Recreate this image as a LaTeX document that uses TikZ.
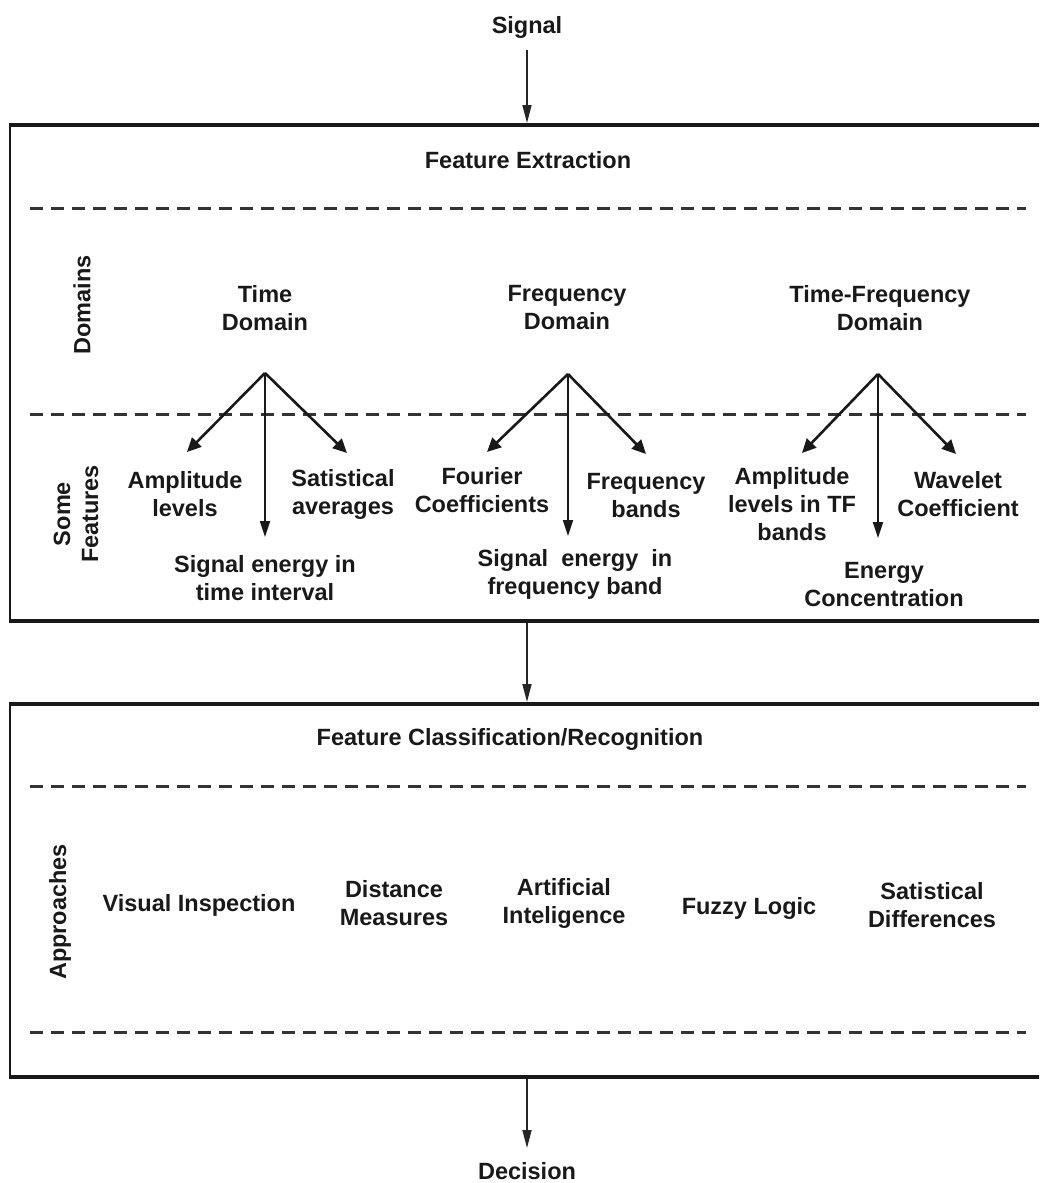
\documentclass[tikz,border=0pt]{standalone}
\usepackage{fontspec}
\setmainfont{Liberation Sans}
\usetikzlibrary{arrows.meta}
\begin{document}
\begin{tikzpicture}[x=1pt,y=-1pt,
  lbl/.style={font=\fontsize{23.5}{28}\selectfont\bfseries, align=center, inner sep=0pt, text=black!90},
  frame/.style={line width=4.5pt, black!90},
  side/.style={line width=2.5pt, black!90},
  sep/.style={line width=3pt, black!80, dash pattern=on 13pt off 8pt},
  flow/.style={line width=1.6pt, black!85, -{Triangle[length=18pt,width=9pt]}},
  branch/.style={line width=2.6pt, black!90, -{Triangle[length=14pt,width=13pt]}},
  trunk/.style={line width=2pt, black!90, -{Triangle[length=16pt,width=10pt]}}]
\useasboundingbox (0,0) rectangle (1039,1183);
\clip (0,0) rectangle (1039,1183);

% ---- boxes ----
\draw[frame] (8.75,125) -- (1050,125);
\draw[frame] (8.75,621) -- (1050,621);
\draw[side] (10,125) -- (10,621);
\draw[frame] (8.75,704) -- (1050,704);
\draw[frame] (8.75,1077) -- (1050,1077);
\draw[side] (10,704) -- (10,1077);

% ---- dashed separators ----
\draw[sep] (30,208) -- (1026,208);
\draw[sep] (30,414) -- (1026,414);
\draw[sep] (30,786) -- (1026,786);
\draw[sep] (30,1032) -- (1026,1032);

% ---- flow labels ----
\node[lbl] (signal) at (527,27) {Signal};
\node[lbl] (decision) at (527,1171) {Decision};
\node[lbl] (fe) at (528,160) {Feature Extraction};
\node[lbl] (fc) at (510,739) {Feature Classification/Recognition};

\coordinate (sigfoot) at (527,50);
\coordinate (b1in) at (527,123);
\coordinate (b1out) at (527,623);
\coordinate (b2in) at (527,702);
\coordinate (b2out) at (527,1079);
\coordinate (decin) at (527,1148);
\draw[flow] (sigfoot) -- (b1in);
\draw[flow] (b1out) -- (b2in);
\draw[flow] (b2out) -- (decin);

% ---- side labels ----
\node[lbl, rotate=90] (domains) at (82,305) {Domains};
\node[lbl, rotate=90] (somefeat) at (76,514) {Some\\Features};
\node[lbl, rotate=90] (approaches) at (60,912) {Approaches};

% ---- domains ----
\node[lbl] (td) at (265,308) {Time\\Domain};
\node[lbl] (fd) at (567,308) {Frequency\\Domain};
\node[lbl] (tfd) at (880,308) {Time-Frequency\\Domain};

\coordinate (tdA) at (265,373);
\coordinate (fdA) at (568,374);
\coordinate (tfA) at (878,374);

% ---- features ----
\node[lbl] (amp) at (185,494) {Amplitude\\levels};
\node[lbl] (stat) at (343,494) {Satistical\\averages};
\node[lbl] (sen) at (265,578) {Signal energy in\\time interval};
\node[lbl] (four) at (482,490) {Fourier\\Coefficients};
\node[lbl] (fb) at (646,496) {Frequency\\bands};
\node[lbl] (sef) at (575,574) {Signal\ \ energy\ \ in\\frequency band};
\node[lbl] (atf) at (792,504) {Amplitude\\levels in TF\\bands};
\node[lbl] (wav) at (958,494) {Wavelet\\Coefficient};
\node[lbl] (ec) at (884,585) {Energy\\Concentration};

\coordinate (ampT) at (187,452);
\coordinate (statT) at (347,453);
\coordinate (senT) at (265,537);
\coordinate (fourT) at (487,452);
\coordinate (fbT) at (646,454);
\coordinate (sefT) at (568,536);
\coordinate (atfT) at (802,453);
\coordinate (wavT) at (956,454);
\coordinate (ecT) at (878,538);

\draw[branch] (tdA) -- (ampT);
\draw[branch] (tdA) -- (statT);
\draw[trunk] (tdA) -- (senT);
\draw[branch] (fdA) -- (fourT);
\draw[branch] (fdA) -- (fbT);
\draw[trunk] (fdA) -- (sefT);
\draw[branch] (tfA) -- (atfT);
\draw[branch] (tfA) -- (wavT);
\draw[trunk] (tfA) -- (ecT);

% ---- approaches ----
\node[lbl] (vi) at (199,905) {Visual Inspection};
\node[lbl] (dm) at (394,903) {Distance\\Measures};
\node[lbl] (ai) at (564,903) {Artificial\\Inteligence};
\node[lbl] (fl) at (749,908) {Fuzzy Logic};
\node[lbl] (sd) at (932,905) {Satistical\\Differences};
\end{tikzpicture}
\end{document}
